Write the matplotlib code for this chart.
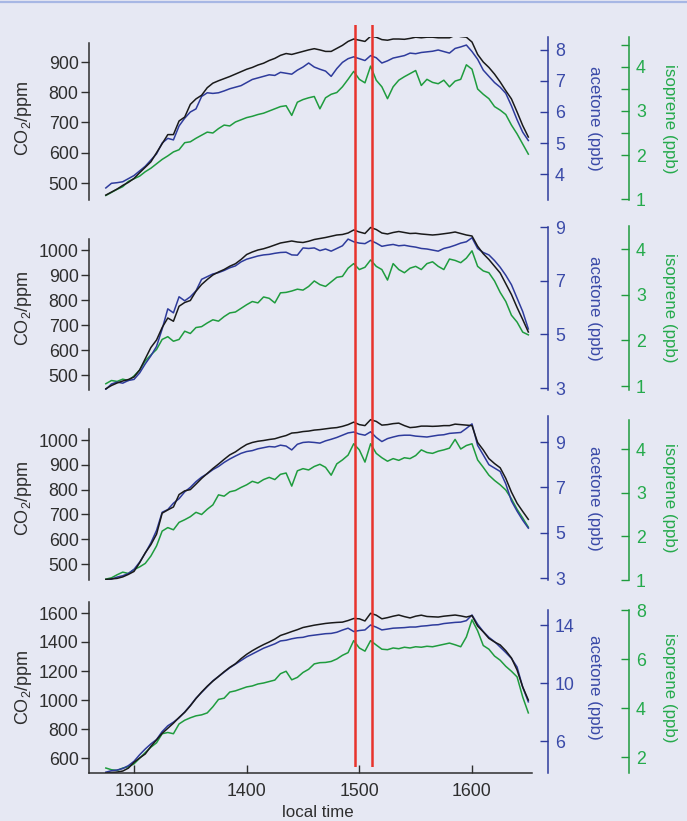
import numpy as np
import matplotlib
matplotlib.use("Agg")
import matplotlib.pyplot as plt
from matplotlib.lines import Line2D

plt.rcParams["font.family"] = ["Liberation Sans", "DejaVu Sans"]
plt.rcParams["mathtext.fontset"] = "custom"
plt.rcParams["mathtext.rm"] = "Liberation Sans"

# ---- data (5-min sampling) ----
local_time = np.arange(1275, 1651, 5)
event_times = [1496, 1511]

co2_1 = [460, 470, 480, 492, 502, 515, 534, 552, 570, 600,
         630, 660, 660, 705, 718, 760, 778, 790, 815, 830,
         838, 845, 852, 860, 868, 876, 882, 890, 896, 905,
         912, 922, 928, 925, 930, 935, 940, 944, 940, 935,
         935, 945, 955, 968, 976, 972, 968, 985, 982, 974,
         972, 976, 976, 975, 978, 982, 980, 982, 982, 980,
         980, 980, 988, 984, 982, 966, 925, 900, 882, 860,
         834, 805, 778, 735, 690, 652]
acetone_1 = [3.55, 3.70, 3.72, 3.75, 3.85, 3.95, 4.10, 4.25, 4.45, 4.65,
             5.00, 5.15, 5.10, 5.55, 5.80, 6.00, 6.10, 6.50, 6.62, 6.60,
             6.62, 6.68, 6.75, 6.80, 6.85, 6.95, 7.05, 7.10, 7.15, 7.20,
             7.18, 7.28, 7.25, 7.22, 7.35, 7.45, 7.58, 7.45, 7.38, 7.32,
             7.15, 7.40, 7.60, 7.72, 7.78, 7.72, 7.66, 7.82, 7.75, 7.58,
             7.65, 7.74, 7.78, 7.82, 7.90, 7.88, 7.92, 7.94, 7.96, 8.00,
             7.95, 7.90, 8.05, 8.10, 8.16, 7.95, 7.70, 7.35, 7.15, 6.95,
             6.80, 6.60, 6.20, 5.75, 5.35, 5.08]
isoprene_1 = [1.08, 1.15, 1.22, 1.28, 1.40, 1.46, 1.52, 1.62, 1.70, 1.80,
              1.90, 1.98, 2.07, 2.12, 2.28, 2.30, 2.38, 2.45, 2.52, 2.50,
              2.60, 2.68, 2.66, 2.75, 2.80, 2.85, 2.88, 2.92, 2.95, 3.00,
              3.05, 3.10, 3.12, 2.90, 3.20, 3.26, 3.30, 3.33, 3.05, 3.30,
              3.38, 3.42, 3.55, 3.72, 3.90, 3.72, 3.64, 4.02, 3.70, 3.55,
              3.28, 3.55, 3.70, 3.78, 3.85, 3.92, 3.58, 3.72, 3.65, 3.62,
              3.70, 3.55, 3.68, 3.72, 4.05, 3.95, 3.50, 3.38, 3.28, 3.10,
              3.02, 2.92, 2.68, 2.48, 2.25, 2.02]

co2_2 = [445, 458, 468, 476, 482, 492, 520, 565, 610, 640,
         690, 728, 715, 775, 790, 798, 835, 862, 882, 900,
         912, 922, 935, 945, 962, 982, 992, 1000, 1005, 1012,
         1020, 1028, 1032, 1036, 1032, 1030, 1035, 1042, 1046, 1050,
         1055, 1060, 1062, 1068, 1080, 1072, 1066, 1090, 1082, 1068,
         1064, 1070, 1074, 1070, 1066, 1067, 1064, 1062, 1060, 1062,
         1065, 1068, 1072, 1066, 1060, 1056, 1015, 985, 962, 935,
         908, 865, 822, 770, 722, 672]
acetone_2 = [2.95, 3.15, 3.22, 3.18, 3.28, 3.32, 3.56, 3.90, 4.20, 4.55,
             5.20, 5.95, 5.80, 6.40, 6.25, 6.40, 6.62, 7.05, 7.15, 7.25,
             7.30, 7.38, 7.48, 7.55, 7.70, 7.80, 7.86, 7.92, 7.96, 7.98,
             8.02, 8.05, 8.06, 7.96, 7.95, 8.22, 8.20, 8.22, 8.12, 8.18,
             8.10, 8.20, 8.30, 8.55, 8.45, 8.40, 8.38, 8.50, 8.40, 8.28,
             8.32, 8.35, 8.30, 8.32, 8.28, 8.25, 8.20, 8.18, 8.14, 8.10,
             8.20, 8.25, 8.32, 8.40, 8.45, 8.60, 8.20, 8.05, 7.96, 7.75,
             7.50, 7.20, 6.85, 6.35, 5.85, 5.20]
isoprene_2 = [1.05, 1.12, 1.10, 1.15, 1.12, 1.22, 1.35, 1.55, 1.68, 1.80,
              2.02, 2.08, 1.98, 2.02, 2.20, 2.15, 2.28, 2.30, 2.38, 2.45,
              2.42, 2.52, 2.60, 2.62, 2.70, 2.78, 2.85, 2.82, 2.95, 2.92,
              2.82, 3.04, 3.05, 3.08, 3.12, 3.10, 3.18, 3.30, 3.22, 3.18,
              3.28, 3.38, 3.40, 3.58, 3.68, 3.55, 3.60, 3.76, 3.62, 3.55,
              3.32, 3.68, 3.55, 3.48, 3.58, 3.62, 3.55, 3.68, 3.72, 3.62,
              3.55, 3.78, 3.75, 3.70, 3.80, 3.96, 3.62, 3.52, 3.48, 3.30,
              3.05, 2.85, 2.55, 2.40, 2.18, 2.12]

co2_3 = [438, 440, 442, 448, 458, 470, 505, 545, 578, 620,
         705, 718, 730, 780, 795, 800, 822, 845, 865, 885,
         903, 922, 940, 952, 968, 982, 990, 995, 998, 1002,
         1005, 1012, 1018, 1028, 1030, 1034, 1036, 1040, 1042, 1045,
         1048, 1050, 1055, 1062, 1072, 1062, 1058, 1082, 1075, 1060,
         1062, 1066, 1068, 1058, 1050, 1052, 1056, 1056, 1055, 1056,
         1058, 1058, 1064, 1062, 1060, 1058, 990, 960, 925, 905,
         888, 845, 790, 745, 712, 680]
acetone_3 = [2.85, 2.95, 3.04, 3.10, 3.20, 3.38, 3.70, 4.10, 4.55, 5.10,
             5.90, 6.02, 6.30, 6.50, 6.80, 7.00, 7.25, 7.45, 7.60, 7.78,
             7.92, 8.10, 8.25, 8.38, 8.50, 8.58, 8.62, 8.70, 8.75, 8.80,
             8.78, 8.86, 8.82, 8.65, 8.90, 8.98, 9.00, 8.98, 8.95, 9.05,
             9.12, 9.20, 9.30, 9.40, 9.44, 9.35, 9.30, 9.45, 9.20, 9.02,
             9.15, 9.22, 9.28, 9.30, 9.30, 9.26, 9.24, 9.22, 9.26, 9.30,
             9.32, 9.38, 9.40, 9.42, 9.60, 9.80, 8.85, 8.43, 8.00, 7.85,
             7.70, 7.15, 6.40, 5.95, 5.55, 5.20]
isoprene_3 = [1.02, 1.05, 1.12, 1.18, 1.15, 1.24, 1.30, 1.38, 1.55, 1.78,
              2.12, 2.20, 2.15, 2.32, 2.38, 2.45, 2.55, 2.50, 2.62, 2.72,
              2.95, 2.92, 3.02, 3.05, 3.12, 3.18, 3.26, 3.22, 3.30, 3.35,
              3.30, 3.42, 3.45, 3.15, 3.50, 3.55, 3.52, 3.60, 3.65, 3.58,
              3.40, 3.66, 3.75, 3.86, 4.12, 3.98, 3.70, 4.12, 3.90, 3.80,
              3.72, 3.78, 3.74, 3.80, 3.78, 3.85, 3.98, 3.92, 3.90, 3.95,
              3.98, 4.02, 4.22, 4.00, 4.08, 4.12, 3.75, 3.58, 3.40, 3.28,
              3.18, 3.06, 2.86, 2.62, 2.42, 2.21]

co2_4 = [498, 500, 503, 510, 530, 570, 600, 628, 680, 725,
         770, 805, 840, 880, 915, 960, 1010, 1055, 1095, 1130,
         1162, 1195, 1225, 1250, 1285, 1315, 1340, 1362, 1382, 1400,
         1420, 1445, 1458, 1472, 1485, 1500, 1508, 1516, 1522, 1528,
         1532, 1535, 1537, 1548, 1562, 1560, 1545, 1598, 1585, 1560,
         1568, 1578, 1586, 1575, 1566, 1578, 1585, 1576, 1574, 1572,
         1578, 1582, 1586, 1580, 1572, 1582, 1510, 1470, 1425, 1400,
         1380, 1340, 1290, 1207, 1090, 1000]
acetone_4 = [3.85, 3.95, 4.00, 4.10, 4.30, 4.60, 5.05, 5.45, 5.80, 6.10,
             6.65, 7.05, 7.30, 7.60, 8.00, 8.45, 8.95, 9.35, 9.75, 10.15,
             10.45, 10.75, 11.05, 11.30, 11.55, 11.80, 12.00, 12.20, 12.40, 12.55,
             12.70, 12.90, 12.95, 13.05, 13.12, 13.15, 13.25, 13.30, 13.35, 13.40,
             13.42, 13.50, 13.65, 13.78, 13.55, 13.62, 13.66, 14.00, 13.85, 13.66,
             13.72, 13.78, 13.80, 13.82, 13.86, 13.86, 13.92, 13.95, 14.00, 14.02,
             14.10, 14.14, 14.18, 14.20, 14.30, 14.69, 14.05, 13.55, 13.15, 12.85,
             12.48, 12.10, 11.70, 11.10, 9.72, 8.70]
isoprene_4 = [1.55, 1.48, 1.45, 1.55, 1.60, 1.72, 1.95, 2.18, 2.40, 2.58,
              2.95, 3.00, 2.95, 3.35, 3.50, 3.60, 3.68, 3.72, 3.80, 4.05,
              4.35, 4.40, 4.65, 4.70, 4.78, 4.86, 4.90, 4.98, 5.02, 5.08,
              5.14, 5.40, 5.50, 5.15, 5.25, 5.45, 5.58, 5.80, 5.85, 5.86,
              5.90, 6.00, 6.15, 6.26, 6.75, 6.45, 6.32, 6.75, 6.57, 6.40,
              6.38, 6.45, 6.42, 6.48, 6.45, 6.50, 6.48, 6.52, 6.50, 6.55,
              6.60, 6.65, 6.58, 6.50, 6.90, 7.60, 7.15, 6.55, 6.40, 6.12,
              5.95, 5.70, 5.50, 5.27, 4.45, 3.80]

x_ticks = [1300, 1400, 1500, 1600]

# ---- layout (pixel geometry of the 687x821 figure) ----
W, H = 687, 821
AX_L, AX_R = 89, 532
X_CAL = ((1300, 134), (1600, 472))
BG = "#e6e8f3"
C_CO2, C_AC, C_ISO = "#1a1a1a", "#2e3b9c", "#1f9c3e"
C_AC_TXT, C_ISO_TXT = "#3a4aa8", "#25aa4c"
C_RED = "#e8332c"
C_TXT = "#2e2e2e"

# each panel: box (top, bottom px); for each axis: (calibration), ticks, spine px extent
panels = [
    dict(box=(37, 200), series=(co2_1, acetone_1, isoprene_1),
         co2=(((900, 62), (500, 183)), [500, 600, 700, 800, 900], (43, 200)),
         ac=(((8, 50), (4, 174)), [4, 5, 6, 7, 8], (37, 200)),
         iso=(((4, 67), (1, 199)), [1, 2, 3, 4], (37, 200)),
         iso_minor=[2.5, 3.5, 4.5]),
    dict(box=(226, 390), series=(co2_2, acetone_2, isoprene_2),
         co2=(((1000, 250), (500, 375)), [500, 600, 700, 800, 900, 1000], (239, 390)),
         ac=(((9, 227), (3, 388)), [3, 5, 7, 9], (227, 390)),
         iso=(((4, 249), (1, 386)), [1, 2, 3, 4], (226, 390)),
         iso_minor=[]),
    dict(box=(416, 580), series=(co2_3, acetone_3, isoprene_3),
         co2=(((1000, 440), (500, 564)), [500, 600, 700, 800, 900, 1000], (429, 580)),
         ac=(((9, 442), (3, 578)), [3, 5, 7, 9], (416, 580)),
         iso=(((4, 449), (1, 580)), [1, 2, 3, 4], (420, 580)),
         iso_minor=[]),
    dict(box=(602, 773), series=(co2_4, acetone_4, isoprene_4),
         co2=(((1600, 613), (600, 758)), [600, 800, 1000, 1200, 1400, 1600], (602, 773)),
         ac=(((14, 625), (6, 741)), [6, 10, 14], (610, 773)),
         iso=(((8, 610), (2, 757)), [2, 4, 6, 8], (610, 773)),
         iso_minor=[]),
]


def px_to_val(cal, p):
    (v1, p1), (v2, p2) = cal
    return v1 + (p - p1) * (v2 - v1) / (p2 - p1)


def x_of_px(px):
    (v1, p1), (v2, p2) = X_CAL
    return v1 + (px - p1) * (v2 - v1) / (p2 - p1)


def frac_x(px):
    return (px - AX_L) / (AX_R - AX_L)


XLIM = (x_of_px(AX_L), x_of_px(AX_R))
FS_TICK = 12.8
FS_LAB = 12.2

fig = plt.figure(figsize=(W / 100, H / 100), dpi=100, facecolor=BG)
fig.add_artist(Line2D([0, 1], [1 - 2 / H] * 2, color="#a7b7e4", lw=1.6))

for i, p in enumerate(panels):
    top, bot = p["box"]
    rect = [AX_L / W, 1 - bot / H, (AX_R - AX_L) / W, (bot - top) / H]
    ax = fig.add_axes(rect)
    ax_ac = ax.twinx()
    ax_iso = ax.twinx()
    ax_iso.set_zorder(1)
    ax_ac.set_zorder(2)
    ax.set_zorder(3)
    for a in (ax, ax_ac, ax_iso):
        a.patch.set_visible(False)
        for s in a.spines.values():
            s.set_visible(False)
        a.set_xlim(*XLIM)

    co2, ac, iso = p["series"]
    ax_iso.plot(local_time, iso, color=C_ISO, lw=1.1)
    ax_ac.plot(local_time, ac, color=C_AC, lw=1.1)
    ax.plot(local_time, co2, color=C_CO2, lw=1.1)

    # CO2 axis (left)
    cal, ticks, (sp_t, sp_b) = p["co2"]
    ax.set_ylim(px_to_val(cal, bot), px_to_val(cal, top))
    ax.spines["left"].set_visible(True)
    ax.spines["left"].set_bounds(px_to_val(cal, sp_b), px_to_val(cal, sp_t))
    ax.spines["left"].set_color(C_TXT)
    ax.spines["left"].set_linewidth(1.1)
    ax.set_yticks(ticks)
    ax.tick_params(axis="y", direction="out", length=6, width=1.0, color=C_TXT,
                   labelsize=FS_TICK, labelcolor=C_TXT, pad=1.5)
    ax.set_ylabel("CO$_2$/ppm", fontsize=13, color=C_TXT)
    ax.yaxis.set_label_coords(frac_x(34), 0.5)

    # acetone axis
    cal, ticks, (sp_t, sp_b) = p["ac"]
    ax_ac.set_ylim(px_to_val(cal, bot), px_to_val(cal, top))
    sp = ax_ac.spines["right"]
    sp.set_visible(True)
    sp.set_position(("axes", frac_x(548)))
    sp.set_bounds(px_to_val(cal, sp_b), px_to_val(cal, sp_t))
    sp.set_color(C_AC)
    sp.set_linewidth(1.1)
    ax_ac.set_yticks(ticks)
    ax_ac.tick_params(axis="y", direction="in", length=6, width=1.0, color=C_AC,
                      labelsize=FS_TICK, labelcolor=C_AC_TXT, pad=5)
    ax_ac.set_ylabel("acetone (ppb)", fontsize=FS_LAB, color=C_AC_TXT, rotation=-90)
    ax_ac.yaxis.set_label_coords(frac_x(602), 0.5)

    # isoprene axis
    cal, ticks, (sp_t, sp_b) = p["iso"]
    ax_iso.set_ylim(px_to_val(cal, bot), px_to_val(cal, top))
    sp = ax_iso.spines["right"]
    sp.set_visible(True)
    sp.set_position(("axes", frac_x(629)))
    sp.set_bounds(px_to_val(cal, sp_b), px_to_val(cal, sp_t))
    sp.set_color(C_ISO)
    sp.set_linewidth(1.1)
    ax_iso.set_yticks(ticks)
    ax_iso.set_yticks(p["iso_minor"], minor=True)
    ax_iso.tick_params(axis="y", which="both", direction="in", length=6, width=1.0,
                       color=C_ISO, labelsize=FS_TICK, labelcolor=C_ISO_TXT, pad=5)
    ax_iso.set_ylabel("isoprene (ppb)", fontsize=FS_LAB, color=C_ISO_TXT, rotation=-90)
    ax_iso.yaxis.set_label_coords(frac_x(677), 0.5)

    for a in (ax, ax_ac, ax_iso):
        a.tick_params(axis="x", bottom=False, labelbottom=False, top=False)

    if i == len(panels) - 1:
        ax.spines["bottom"].set_visible(True)
        ax.spines["bottom"].set_color(C_TXT)
        ax.spines["bottom"].set_linewidth(1.1)
        ax.set_xticks(x_ticks)
        ax.tick_params(axis="x", bottom=True, labelbottom=True, direction="in",
                       length=6, width=1.0, color=C_TXT, labelsize=FS_TICK,
                       labelcolor=C_TXT, pad=7)
        ax.set_xlabel("local time", fontsize=FS_LAB, color=C_TXT)
        ax.xaxis.set_label_coords(frac_x(318), -0.19)

# red event markers spanning all panels
ov = fig.add_axes([AX_L / W, 1 - 767 / H, (AX_R - AX_L) / W, (767 - 25) / H])
ov.set_xlim(*XLIM)
ov.set_ylim(0, 1)
ov.axis("off")
ov.set_zorder(10)
for t in event_times:
    ov.axvline(t, color=C_RED, lw=1.8)

fig.savefig("out.png", dpi=100, facecolor=BG)
